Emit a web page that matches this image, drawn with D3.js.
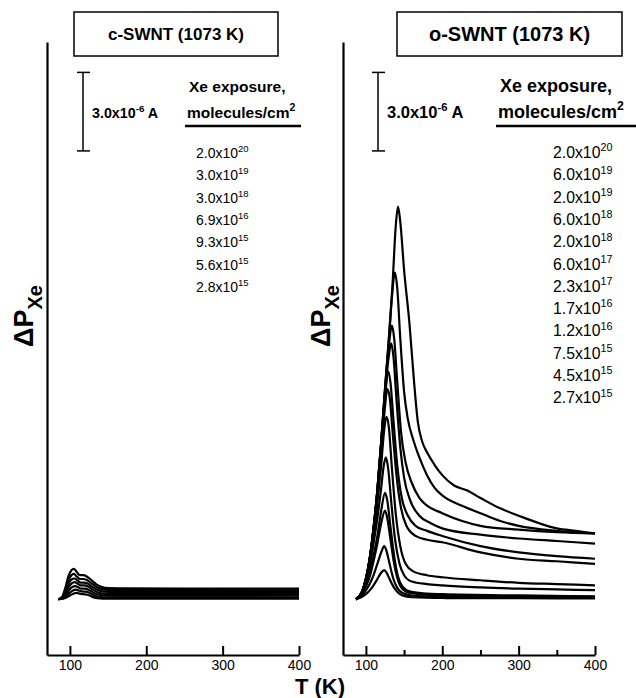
<!DOCTYPE html>
<html>
<head>
<meta charset="utf-8">
<script src="https://cdn.jsdelivr.net/npm/d3@7"></script>
<style>
  body { margin: 0; background: #fff; }
  svg { font-family: "Liberation Sans", Arial, Helvetica, sans-serif; }
</style>
</head>
<body>
<svg id="chart_svg" width="636" height="698"></svg>
<script>
// ---- data (T in K, signal in units of 1e-6 A above the baseline) ----
const xTicks = [100, 200, 300, 400];
const xMinorTicks = [150, 250, 350];

const cMant = ["2.0", "3.0", "3.0", "6.9", "9.3", "5.6", "2.8"];
const cExp = ["20", "19", "18", "16", "15", "15", "15"];

const oMant = ["2.0", "6.0", "2.0", "6.0", "2.0", "6.0", "2.3", "1.7", "1.2", "7.5", "4.5", "2.7"];
const oExp = ["20", "19", "19", "18", "18", "17", "17", "16", "16", "15", "15", "15"];

// c-SWNT curves
const c1 = [[85,0],[90,0.1],[94,0.45],[98,0.9],[102,1.15],[105,1.2],[109,1.08],[113,0.95],[118,0.95],[122,0.9],[128,0.76],[135,0.58],[142,0.48],[150,0.44],[175,0.43],[250,0.42],[400,0.42]];
const c2 = [[85,0],[90,0.08],[94,0.38],[98,0.75],[102,0.95],[105,1.0],[109,0.9],[113,0.8],[118,0.8],[122,0.76],[128,0.64],[135,0.48],[142,0.4],[150,0.37],[175,0.36],[250,0.36],[400,0.35]];
const c3 = [[85,0],[90,0.06],[94,0.3],[98,0.6],[102,0.78],[106,0.82],[110,0.74],[114,0.66],[118,0.66],[123,0.62],[129,0.5],[136,0.38],[143,0.31],[150,0.29],[175,0.28],[250,0.28],[400,0.28]];
const c4 = [[85,0],[90,0.05],[94,0.22],[98,0.46],[102,0.62],[106,0.68],[110,0.62],[114,0.55],[119,0.55],[124,0.5],[130,0.38],[137,0.27],[145,0.22],[160,0.2],[250,0.2],[400,0.2]];
const c5 = [[85,0],[90,0.03],[95,0.18],[99,0.36],[103,0.48],[107,0.52],[111,0.47],[115,0.42],[120,0.42],[125,0.37],[131,0.26],[138,0.18],[146,0.15],[170,0.14],[400,0.14]];
const c6 = [[85,0],[90,0.02],[95,0.12],[100,0.26],[104,0.35],[108,0.38],[112,0.34],[116,0.31],[121,0.3],[126,0.25],[132,0.15],[140,0.09],[150,0.08],[400,0.07]];
const c7 = [[85,0],[91,0.02],[96,0.08],[101,0.17],[105,0.23],[109,0.25],[113,0.22],[118,0.2],[123,0.18],[129,0.1],[136,0.04],[150,0.02],[400,0.02]];

// o-SWNT curves
const o1 = [[87,0],[95,0.3],[100,0.8],[105,1.6],[110,2.8],[115,4.3],[120,6.2],[125,8.3],[130,10.3],[135,12.5],[139,14.7],[142,15.5],[145,14.9],[150,13.0],[157,10.9],[163,8.6],[168,7.0],[174,6.2],[180,5.8],[190,5.3],[200,4.9],[215,4.5],[232,4.3],[250,4.0],[275,3.6],[300,3.3],[327,3.0],[350,2.8],[375,2.7],[400,2.6]];
const o2 = [[87,0],[95,0.3],[100,0.8],[105,1.6],[110,2.8],[115,4.3],[120,6.2],[125,8.3],[130,10.2],[134,11.9],[138,12.9],[141,12.3],[145,10.3],[150,8.2],[155,7.1],[162,6.3],[170,5.6],[180,4.9],[190,4.4],[200,4.1],[225,3.7],[250,3.4],[275,3.1],[300,2.9],[350,2.7],[400,2.6]];
const o3 = [[87,0],[95,0.3],[100,0.8],[105,1.6],[110,2.8],[115,4.3],[120,6.2],[125,8.2],[130,10.0],[134,10.8],[137,10.3],[141,8.6],[146,6.6],[152,5.4],[160,4.6],[170,4.0],[180,3.7],[200,3.4],[225,3.1],[250,2.9],[300,2.75],[350,2.65],[400,2.6]];
const o4 = [[87,0],[95,0.3],[100,0.8],[105,1.6],[110,2.8],[115,4.3],[120,6.2],[125,8.1],[130,9.6],[133,10.1],[136,9.6],[140,7.9],[145,6.0],[150,4.8],[158,3.9],[170,3.3],[185,3.0],[200,2.8],[250,2.55],[300,2.4],[350,2.3],[400,2.2]];
const o5 = [[87,0],[95,0.3],[100,0.8],[105,1.6],[110,2.8],[115,4.2],[120,6.0],[125,7.9],[129,9.0],[132,8.6],[136,7.1],[141,5.3],[147,4.0],[155,3.3],[165,2.9],[180,2.7],[200,2.5],[250,2.1],[300,1.85],[350,1.7],[400,1.6]];
const o6 = [[87,0],[95,0.3],[100,0.8],[105,1.6],[110,2.7],[115,4.1],[120,5.8],[125,7.6],[128,8.3],[131,8.0],[135,6.6],[140,4.9],[146,3.6],[153,2.9],[165,2.5],[180,2.35],[200,2.25],[250,1.85],[300,1.6],[350,1.5],[400,1.4]];
const o7 = [[87,0],[95,0.3],[100,0.8],[105,1.5],[110,2.5],[115,3.8],[120,5.3],[124,6.7],[127,7.2],[130,6.8],[134,5.2],[139,3.4],[145,2.1],[152,1.4],[162,1.1],[180,0.95],[200,0.87],[250,0.75],[300,0.65],[350,0.6],[400,0.55]];
const o8 = [[87,0],[95,0.25],[100,0.7],[105,1.3],[110,2.2],[115,3.2],[120,4.4],[123,5.2],[126,5.6],[129,5.2],[133,3.9],[138,2.4],[144,1.4],[150,0.95],[160,0.7],[180,0.6],[200,0.55],[250,0.47],[300,0.42],[350,0.39],[400,0.36]];
const o9 = [[87,0],[95,0.2],[100,0.55],[105,1.0],[110,1.7],[115,2.5],[120,3.5],[125,4.2],[128,3.9],[132,2.9],[137,1.7],[142,0.9],[148,0.5],[158,0.3],[180,0.22],[200,0.2],[300,0.15],[400,0.12]];
const o10 = [[87,0],[95,0.2],[100,0.5],[105,0.9],[110,1.5],[115,2.2],[120,3.0],[125,3.5],[128,3.2],[132,2.4],[137,1.4],[142,0.75],[148,0.4],[158,0.25],[180,0.18],[200,0.15],[300,0.12],[400,0.1]];
const o11 = [[87,0],[95,0.15],[100,0.35],[105,0.6],[110,0.95],[115,1.4],[120,1.85],[124,2.1],[127,1.9],[131,1.4],[136,0.8],[141,0.45],[148,0.25],[160,0.15],[200,0.1],[300,0.08],[400,0.07]];
const o12 = [[87,0],[95,0.1],[100,0.2],[105,0.35],[110,0.55],[115,0.8],[120,1.05],[124,1.15],[127,1.05],[131,0.8],[136,0.5],[141,0.3],[148,0.15],[160,0.08],[200,0.05],[300,0.04],[400,0.03]];

const cCurves = [c1, c2, c3, c4, c5, c6, c7];
const oCurves = [o1, o2, o3, o4, o5, o6, o7, o8, o9, o10, o11, o12];

// ---- layout ----
const svg = d3.select("#chart_svg");
const yTop = 42, yBottom = 655;
const panelWidth = 252;

const yScale = d3.scaleLinear().domain([-2.2, 22.0]).range([yBottom, yTop]);

function supText(sel, x, y, base, sup, after, size, weight) {
  const t = sel.append("text")
    .attr("x", x).attr("y", y)
    .attr("font-size", size)
    .attr("font-weight", weight)
    .attr("fill", "#000");
  t.append("tspan").text(base);
  t.append("tspan").attr("dy", -size * 0.42).attr("font-size", size * 0.68).text(sup);
  if (after) t.append("tspan").attr("dy", size * 0.42).text(after);
  return t;
}

function drawPanel(p) {
  const g = svg.append("g");

  const xScale = d3.scaleLinear().domain([70, 400]).range([p.x0, p.x0 + panelWidth]);

  // x axis with ticks pointing into the plot
  const gx = g.append("g")
    .attr("transform", "translate(0," + yBottom + ")")
    .call(d3.axisBottom(xScale).tickValues(xTicks).tickSize(-9).tickSizeOuter(0).tickPadding(5));
  gx.selectAll("text").attr("font-size", 14).attr("font-family", "inherit").attr("fill", "#000");

  if (p.minor) {
    const gm = g.append("g")
      .attr("transform", "translate(0," + yBottom + ")")
      .call(d3.axisBottom(xScale).tickValues(xMinorTicks).tickSize(-5).tickFormat(""));
    gm.select(".domain").remove();
    gm.selectAll("line").attr("stroke-width", 2);
  }

  // y axis (no ticks)
  const gy = g.append("g")
    .attr("transform", "translate(" + p.x0 + ",0)")
    .call(d3.axisLeft(yScale).tickValues([]).tickSizeOuter(0));

  [gx, gy].forEach(a => {
    a.select(".domain").attr("stroke-width", 2.2);
    a.selectAll(".tick line").attr("stroke-width", 2);
  });

  // curves
  const line = d3.line()
    .x(d => xScale(d[0]))
    .y(d => yScale(d[1]))
    .curve(d3.curveMonotoneX);

  g.selectAll(".curve")
    .data(p.curves)
    .enter()
    .append("path")
    .attr("class", "curve")
    .attr("fill", "none")
    .attr("stroke", "#000")
    .attr("stroke-width", 2.2)
    .attr("stroke-linejoin", "round")
    .attr("d", line);

  // title box
  g.append("rect")
    .attr("x", p.box[0]).attr("y", 12)
    .attr("width", p.box[1] - p.box[0]).attr("height", 44)
    .attr("fill", "#fff").attr("stroke", "#000").attr("stroke-width", 1.5);
  g.append("text")
    .attr("x", (p.box[0] + p.box[1]) / 2).attr("y", 34 + p.titleSize * 0.36)
    .attr("text-anchor", "middle")
    .attr("font-size", p.titleSize).attr("font-weight", "bold")
    .text(p.title);

  // current scale bar: 3.0e-6 A
  const by0 = yScale(20.8), by1 = yScale(17.7);
  g.append("line").attr("x1", p.barX).attr("x2", p.barX).attr("y1", by0).attr("y2", by1)
    .attr("stroke", "#000").attr("stroke-width", 1.5);
  [by0, by1].forEach(yy => g.append("line")
    .attr("x1", p.barX - 6).attr("x2", p.barX + 7).attr("y1", yy).attr("y2", yy)
    .attr("stroke", "#000").attr("stroke-width", 1.5));
  supText(g, p.barX + 9, 118, "3.0x10", "-6", " A", p.barSize, "bold");

  // exposure list header
  g.append("text").attr("x", p.headX + 2).attr("y", 92)
    .attr("font-size", p.headSize).attr("font-weight", "bold").text("Xe exposure,");
  supText(g, p.headX, 118, "molecules/cm", "2", null, p.headSize, "bold");
  g.append("line").attr("x1", p.headX - 2).attr("x2", p.lineEnd)
    .attr("y1", 126).attr("y2", 126).attr("stroke", "#000").attr("stroke-width", 2.5);

  p.mant.forEach((m, i) => {
    supText(g, p.listX, 158 + i * 22.3, m + "x10", p.exp[i], null, p.listSize, "normal");
  });

  // y label
  const yl = g.append("text")
    .attr("transform", "translate(" + p.ylabX + ",316) rotate(-90)")
    .attr("text-anchor", "middle")
    .attr("font-weight", "bold");
  yl.append("tspan").attr("font-size", 27).text("\u0394P");
  yl.append("tspan").attr("font-size", 20).attr("dy", 9).text("Xe");
}

drawPanel({
  x0: 47, minor: false, curves: cCurves, title: "c-SWNT (1073 K)", titleSize: 17,
  box: [74, 278], barX: 83, barSize: 14.3, headX: 187, headSize: 15.5, lineEnd: 301,
  listX: 196, listSize: 14, mant: cMant, exp: cExp, ylabX: 33
});

drawPanel({
  x0: 343, minor: true, curves: oCurves, title: "o-SWNT (1073 K)", titleSize: 20,
  box: [397, 622], barX: 378, barSize: 16.5, headX: 498, headSize: 18, lineEnd: 636,
  listX: 553, listSize: 15.8, mant: oMant, exp: oExp, ylabX: 330
});

// shared x label
svg.append("text")
  .attr("x", 320).attr("y", 694)
  .attr("text-anchor", "middle")
  .attr("font-size", 22).attr("font-weight", "bold")
  .text("T (K)");
</script>
</body>
</html>
